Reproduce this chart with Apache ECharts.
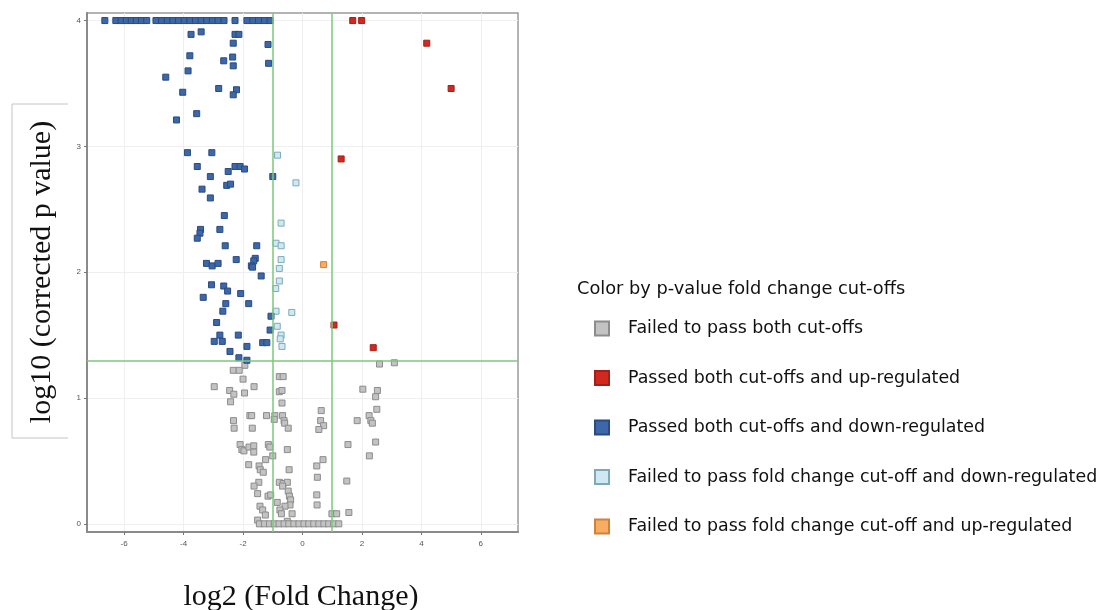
<!DOCTYPE html>
<html>
<head>
<meta charset="utf-8">
<script src="https://cdn.jsdelivr.net/npm/echarts@6/dist/echarts.min.js"></script>
<style>
  html, body { margin: 0; padding: 0; background: #fff; }
  #chart { width: 1109px; height: 610px; }
</style>
</head>
<body>
<div id="chart"></div>
<script>
// 火山图 volcano plot: x = log2 fold change, y = -log10 corrected p

const xTicks = [-6, -4, -2, 0, 2, 4, 6]
const yTicks = [0, 1, 2, 3, 4]
const pCutoff = 1.301
const fcCutoffs = [-1, 1]

const legendNames = [
  'Failed to pass both cut-offs',
  'Passed both cut-offs and up-regulated',
  'Passed both cut-offs and down-regulated',
  'Failed to pass fold change cut-off and down-regulated',
  'Failed to pass fold change cut-off and up-regulated'
]

// [log2FC, log10 p]
const failedBoth = [
  [2.59, 1.27], [3.09, 1.28], [-1.94, 1.26], [-2.33, 1.22], [-2.13, 1.22], [-2.00, 1.15],
  [-0.78, 1.17], [-0.65, 1.17], [-2.97, 1.09], [-1.63, 1.09], [-2.45, 1.06], [-2.31, 1.03],
  [-1.95, 1.04], [-0.78, 1.05], [-0.69, 1.06], [2.03, 1.07], [2.52, 1.06], [2.46, 1.01],
  [-2.42, 0.97], [-0.69, 0.96], [2.50, 0.91], [0.63, 0.90], [-1.77, 0.86], [-1.71, 0.86],
  [-1.21, 0.86], [-0.93, 0.86], [-0.67, 0.86], [-0.95, 0.83], [-0.62, 0.82], [-0.60, 0.80],
  [-0.48, 0.76], [0.61, 0.82], [0.71, 0.78], [0.55, 0.75], [1.84, 0.82], [2.24, 0.86],
  [2.30, 0.82], [2.35, 0.80], [-2.32, 0.82], [-2.30, 0.76], [-1.69, 0.76], [-2.10, 0.63],
  [-2.04, 0.59], [-1.97, 0.58], [-1.80, 0.61], [-1.64, 0.62], [-1.64, 0.57], [-1.15, 0.63],
  [-1.10, 0.61], [-0.51, 0.59], [1.53, 0.63], [2.46, 0.65], [2.25, 0.54], [-1.24, 0.51],
  [-1.00, 0.54], [0.69, 0.51], [0.48, 0.46], [-1.81, 0.47], [-1.46, 0.46], [-1.42, 0.43],
  [-1.32, 0.41], [-0.45, 0.43], [0.50, 0.37], [1.49, 0.34], [-1.47, 0.33], [-1.63, 0.30],
  [-0.78, 0.33], [-0.65, 0.32], [-0.51, 0.33], [-0.67, 0.30], [-0.48, 0.26], [-0.44, 0.22],
  [-0.40, 0.19], [-0.42, 0.15], [-0.59, 0.14], [-1.51, 0.24], [-1.16, 0.22], [-1.07, 0.23],
  [0.48, 0.23], [0.49, 0.15], [-0.85, 0.17], [-1.43, 0.14], [-1.34, 0.11], [-0.76, 0.11],
  [-0.71, 0.08], [-1.25, 0.07], [-0.35, 0.08], [0.99, 0.08], [1.15, 0.08], [1.56, 0.09],
  [-1.51, 0.03], [-0.51, 0.02],
  [-1.45, 0.0], [-1.28, 0.0], [-1.11, 0.0], [-0.95, 0.0], [-0.79, 0.0], [-0.62, 0.0],
  [-0.46, 0.0], [-0.29, 0.0], [-0.12, 0.0], [0.05, 0.0], [0.21, 0.0], [0.38, 0.0],
  [0.55, 0.0], [0.72, 0.0], [0.88, 0.0], [1.05, 0.0], [1.22, 0.0]
]

const upRegulated = [
  [1.69, 4.0], [1.99, 4.0], [4.18, 3.82], [5.00, 3.46], [1.30, 2.90], [1.06, 1.58], [2.38, 1.40]
]

const downRegulated = [
  [-6.65, 4.0], [-6.28, 4.0], [-6.10, 4.0], [-5.93, 4.0], [-5.76, 4.0], [-5.59, 4.0],
  [-5.42, 4.0], [-5.24, 4.0], [-4.93, 4.0], [-4.74, 4.0], [-4.55, 4.0], [-4.36, 4.0],
  [-4.17, 4.0], [-3.98, 4.0], [-3.79, 4.0], [-3.60, 4.0], [-3.41, 4.0], [-3.22, 4.0],
  [-3.03, 4.0], [-2.84, 4.0], [-2.64, 4.0], [-2.27, 4.0], [-1.87, 4.0], [-1.67, 4.0],
  [-1.48, 4.0], [-1.28, 4.0], [-1.09, 4.0],
  [-3.75, 3.89], [-3.41, 3.91], [-2.27, 3.89], [-2.14, 3.89], [-2.33, 3.82], [-1.16, 3.81],
  [-3.79, 3.72], [-2.65, 3.68], [-2.35, 3.71], [-2.33, 3.64], [-1.14, 3.66], [-3.85, 3.60],
  [-4.60, 3.55], [-4.03, 3.43], [-2.82, 3.46], [-2.22, 3.45], [-2.33, 3.41], [-3.56, 3.26],
  [-4.24, 3.21], [-3.87, 2.95], [-3.05, 2.95], [-3.54, 2.84], [-2.27, 2.84], [-2.10, 2.84],
  [-1.95, 2.82], [-2.50, 2.80], [-3.10, 2.76], [-1.00, 2.76], [-2.55, 2.69], [-2.42, 2.70],
  [-3.38, 2.66], [-3.10, 2.59], [-2.63, 2.45], [-3.43, 2.34], [-3.45, 2.31], [-2.78, 2.34],
  [-3.54, 2.27], [-2.60, 2.21], [-1.54, 2.21], [-2.23, 2.10], [-1.59, 2.11], [-1.64, 2.09],
  [-1.72, 2.05], [-1.68, 2.04], [-3.23, 2.07], [-3.04, 2.05], [-2.84, 2.07], [-1.39, 1.97],
  [-3.06, 1.90], [-2.65, 1.89], [-2.52, 1.85], [-2.08, 1.83], [-3.34, 1.80], [-2.58, 1.75],
  [-1.81, 1.75], [-2.68, 1.69], [-1.06, 1.65], [-2.89, 1.60], [-1.09, 1.54], [-2.78, 1.50],
  [-2.16, 1.50], [-2.97, 1.45], [-2.70, 1.45], [-1.87, 1.41], [-1.34, 1.44], [-1.20, 1.44],
  [-2.44, 1.37], [-2.14, 1.32], [-1.87, 1.30]
]

const failedFcDown = [
  [-0.84, 2.93], [-0.22, 2.71], [-0.72, 2.39], [-0.89, 2.23], [-0.72, 2.21], [-0.72, 2.10],
  [-0.78, 2.03], [-0.78, 1.93], [-0.90, 1.87], [-0.89, 1.69], [-0.36, 1.68], [-0.85, 1.57],
  [-0.72, 1.50], [-0.75, 1.47], [-0.69, 1.41]
]

const failedFcUp = [
  [0.71, 2.06]
]

const chart = echarts.init(document.getElementById('chart'))

const serifFont = '"Liberation Serif", "DejaVu Serif", serif'
const sansFont = '"DejaVu Sans", "Noto Sans", sans-serif'

const pointSeries = (name, data, fill, border) => ({
  name: name,
  type: 'scatter',
  data: data,
  symbol: 'rect',
  symbolSize: 6,
  itemStyle: { color: fill, borderColor: border, borderWidth: 1, opacity: 1 },
  emphasis: { disabled: true }
})

const option = {
  backgroundColor: '#fff',
  animation: false,
  title: {
    text: 'Color by p-value fold change cut-offs',
    left: 577,
    top: 280,
    padding: 0,
    textStyle: { fontFamily: sansFont, fontSize: 17.8, fontWeight: 'normal', color: '#111' }
  },
  legend: {
    orient: 'vertical',
    left: 594,
    top: 320,
    padding: 0,
    itemWidth: 14,
    itemHeight: 14,
    itemGap: 32.5,
    icon: 'rect',
    data: legendNames,
    textStyle: { fontFamily: sansFont, fontSize: 17.4, color: '#111', padding: [0, 0, 0, 14] }
  },
  grid: {
    left: 87,
    top: 13,
    right: 591,
    bottom: 78,
    show: true,
    borderColor: '#9a9a9a',
    borderWidth: 1.5
  },
  xAxis: {
    type: 'value',
    min: -7.25,
    max: 7.25,
    axisLine: { show: true, onZero: false, lineStyle: { color: '#8a8a8a', width: 2 } },
    axisTick: { show: true, length: 3, customValues: xTicks, lineStyle: { color: '#777' } },
    axisLabel: { customValues: xTicks, fontSize: 8, color: '#555', margin: 8 },
    splitLine: { show: true, lineStyle: { color: '#efefef', width: 1 } }
  },
  yAxis: {
    type: 'value',
    min: -0.065,
    max: 4.06,
    axisLine: { show: true, onZero: false, lineStyle: { color: '#8a8a8a', width: 2 } },
    axisTick: { show: true, length: 3, customValues: yTicks, lineStyle: { color: '#777' } },
    axisLabel: { customValues: yTicks, fontSize: 8, color: '#555', margin: 6 },
    splitLine: { show: true, lineStyle: { color: '#efefef', width: 1 } }
  },
  graphic: [
    {
      type: 'polyline',
      shape: { points: [[68, 104], [12, 104], [12, 438], [68, 438]] },
      style: { stroke: '#c4c4c4', lineWidth: 1, fill: null },
      silent: true
    },
    {
      type: 'text',
      x: 42,
      y: 272,
      rotation: Math.PI / 2,
      style: {
        text: 'log10 (corrected p value)',
        fontFamily: serifFont,
        fontSize: 30,
        fill: '#111',
        align: 'center',
        verticalAlign: 'middle'
      },
      silent: true
    },
    {
      type: 'text',
      x: 301,
      y: 597,
      style: {
        text: 'log2 (Fold Change)',
        fontFamily: serifFont,
        fontSize: 30,
        fill: '#111',
        align: 'center',
        verticalAlign: 'middle'
      },
      silent: true
    }
  ],
  series: [
    Object.assign(pointSeries(legendNames[0], failedBoth, '#c3c3c3', '#8c8c8c'), {
      markLine: {
        silent: true,
        symbol: 'none',
        label: { show: false },
        lineStyle: { color: '#7cc87c', width: 1.5, type: 'solid' },
        data: [
          { xAxis: fcCutoffs[0] },
          { xAxis: fcCutoffs[1] },
          { yAxis: pCutoff }
        ]
      }
    }),
    pointSeries(legendNames[3], failedFcDown, '#cfe9f2', '#7fa9bb'),
    pointSeries(legendNames[4], failedFcUp, '#f8ad62', '#d0813a'),
    pointSeries(legendNames[2], downRegulated, '#3c67a9', '#2a4b80'),
    pointSeries(legendNames[1], upRegulated, '#d1281f', '#a3201a')
  ]
}

chart.setOption(option)
</script>
</body>
</html>
